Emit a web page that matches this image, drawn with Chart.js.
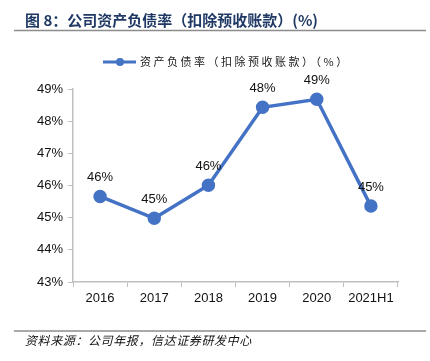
<!DOCTYPE html>
<html>
<head>
<meta charset="utf-8">
<script src="https://cdn.jsdelivr.net/npm/chart.js@4.4.0/dist/chart.umd.min.js"></script>
<style>
  html, body { margin: 0; padding: 0; background: #fff; }
  #wrap { width: 430px; height: 361px; position: relative; }
</style>
</head>
<body>
<div id="wrap"><canvas id="debtChart"></canvas></div>
<script>
const years = ['2016', '2017', '2018', '2019', '2020', '2021H1'];
const debtRatio = [45.66, 44.98, 46.01, 48.43, 48.68, 45.36];
const yTicks = [43, 44, 45, 46, 47, 48, 49];
const seriesName = '资产负债率（扣除预收账款）（%）';
const titleText = '图 8：公司资产负债率（扣除预收账款）(%)';
const sourceText = '资料来源：公司年报，信达证券研发中心';

const lineBlue = '#4472C4';
const cjk = '"Noto Sans CJK SC", "Noto Sans", sans-serif';
const latin = '"Liberation Sans", Arial, sans-serif';

const decorations = {
  id: 'decorations',
  afterDraw(chart) {
    const ctx = chart.ctx;
    ctx.save();

    // title + rule
    ctx.fillStyle = '#1F3864';
    ctx.font = 'bold 15px ' + cjk;
    ctx.textBaseline = 'middle';
    ctx.letterSpacing = '0px';
    ctx.fillText(titleText, 25, 20);
    ctx.strokeStyle = '#8c8c8c';
    ctx.lineWidth = 1.5;
    ctx.beginPath();
    ctx.moveTo(14, 30.5);
    ctx.lineTo(426, 30.5);
    ctx.stroke();

    // legend
    ctx.strokeStyle = lineBlue;
    ctx.lineWidth = 3;
    ctx.beginPath();
    ctx.moveTo(103, 62);
    ctx.lineTo(136, 62);
    ctx.stroke();
    ctx.fillStyle = lineBlue;
    ctx.beginPath();
    ctx.arc(120, 62, 4, 0, Math.PI * 2);
    ctx.fill();
    ctx.fillStyle = '#222';
    ctx.font = '11px ' + cjk;
    ctx.letterSpacing = '2.5px';
    ctx.fillText(seriesName, 140, 62);
    ctx.letterSpacing = '0px';

    // footer rule + source
    ctx.strokeStyle = '#8c8c8c';
    ctx.lineWidth = 1.5;
    ctx.beginPath();
    ctx.moveTo(14, 331);
    ctx.lineTo(426, 331);
    ctx.stroke();
    ctx.fillStyle = '#111';
    ctx.font = 'italic 12px ' + cjk;
    ctx.letterSpacing = '0.6px';
    ctx.fillText(sourceText, 25, 340);
    ctx.letterSpacing = '0px';

    ctx.restore();
  },
  afterDatasetsDraw(chart) {
    const ctx = chart.ctx;
    const meta = chart.getDatasetMeta(0);
    ctx.save();
    ctx.fillStyle = '#111';
    ctx.font = '13px ' + latin;
    ctx.textAlign = 'center';
    ctx.textBaseline = 'middle';
    meta.data.forEach((pt, i) => {
      ctx.fillText(Math.round(debtRatio[i]) + '%', pt.x, pt.y - 19);
    });
    ctx.restore();
  }
};

new Chart(document.getElementById('debtChart'), {
  type: 'line',
  data: {
    labels: years,
    datasets: [{
      label: seriesName,
      data: debtRatio,
      borderColor: lineBlue,
      backgroundColor: lineBlue,
      borderWidth: 3.5,
      pointRadius: 5,
      pointHoverRadius: 5,
      tension: 0
    }]
  },
  options: {
    responsive: true,
    maintainAspectRatio: false,
    animation: false,
    layout: { padding: { top: 89, right: 32, bottom: 0, left: 0 } },
    plugins: {
      legend: { display: false },
      tooltip: { enabled: false }
    },
    scales: {
      x: {
        offset: true,
        grid: { display: true, drawOnChartArea: false, tickLength: 5, color: '#bfbfbf', offset: true },
        border: { color: '#bfbfbf', width: 1.5 },
        ticks: { color: '#111', font: { family: latin, size: 13 }, padding: 4 },
        afterFit: s => { s.height = 79; }
      },
      y: {
        min: yTicks[0],
        max: yTicks[yTicks.length - 1],
        afterBuildTicks: s => { s.ticks = yTicks.map(v => ({ value: v })); },
        grid: { drawOnChartArea: false, tickLength: 5, color: '#bfbfbf' },
        border: { color: '#bfbfbf', width: 1.5 },
        ticks: { color: '#111', font: { family: latin, size: 13 }, padding: 5, callback: v => v + '%' },
        afterFit: s => { s.width = 73; }
      }
    }
  },
  plugins: [decorations]
});
</script>
</body>
</html>
